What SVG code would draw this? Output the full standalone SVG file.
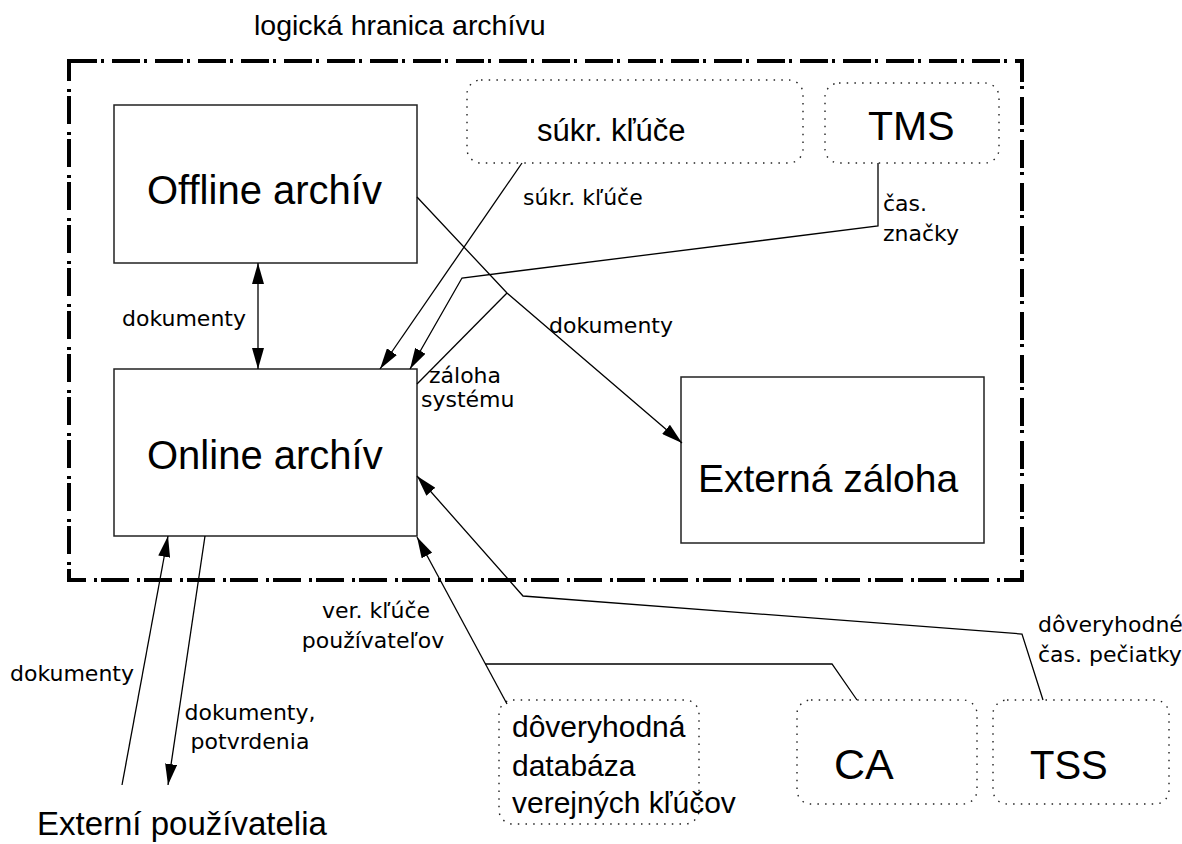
<svg xmlns="http://www.w3.org/2000/svg" width="1182" height="844" viewBox="0 0 1182 844">
<style>
.box{fill:#fff;stroke:#222;stroke-width:1.5}
.dot{fill:none;stroke:#222;stroke-width:1.4;stroke-dasharray:1.5 6.2}
.frame{fill:none;stroke:#000;stroke-width:4;stroke-dasharray:28 4 3 8}
.ln{fill:none;stroke:#000;stroke-width:1.3}
.big{font-family:"Liberation Sans",Arial,sans-serif;fill:#000}
.sm{font-family:"DejaVu Sans",Verdana,sans-serif;font-size:22px;fill:#000}
</style>
<defs>
<marker id="ah" viewBox="0 0 21 12" refX="21" refY="6" markerWidth="21" markerHeight="12" markerUnits="userSpaceOnUse" orient="auto-start-reverse">
<path d="M0,0 L21,6 L0,12 z" fill="#000"/>
</marker>
</defs>
<rect width="1182" height="844" fill="#fff"/>
<g id="boundary">
<rect class="frame" x="69" y="61" width="953" height="519"/>
<text class="big" x="254" y="35" font-size="28.5">logická hranica archívu</text>
</g>
<g id="offline">
<rect class="box" x="114" y="105" width="303" height="158"/>
<text class="big" x="147" y="204" font-size="40">Offline archív</text>
</g>
<g id="online">
<rect class="box" x="114" y="369" width="303" height="167"/>
<text class="big" x="147" y="469" font-size="40">Online archív</text>
</g>
<g id="externa">
<rect class="box" x="681" y="377" width="303" height="166"/>
<text class="big" x="698" y="492" font-size="39">Externá záloha</text>
</g>
<g id="sukr">
<rect class="dot" x="467" y="80" width="336" height="83" rx="14"/>
<text class="big" x="537" y="141" font-size="31">súkr. kľúče</text>
</g>
<g id="tms">
<rect class="dot" x="825" y="83" width="174" height="80" rx="14"/>
<text class="big" x="868" y="140" font-size="41">TMS</text>
</g>
<g id="db">
<rect class="dot" x="499" y="700" width="200" height="124" rx="14"/>
<text class="big" x="512" y="737" font-size="30">dôveryhodná</text>
<text class="big" x="512" y="776" font-size="30">databáza</text>
<text class="big" x="512" y="813" font-size="30">verejných kľúčov</text>
</g>
<g id="ca">
<rect class="dot" x="797" y="700" width="180" height="104" rx="14"/>
<text class="big" x="834" y="779" font-size="43">CA</text>
</g>
<g id="tss">
<rect class="dot" x="993" y="700" width="176" height="104" rx="14"/>
<text class="big" x="1030" y="779" font-size="40">TSS</text>
</g>
<g id="users">
<text class="big" x="37" y="835" font-size="33">Externí používatelia</text>
</g>
<g id="connectors">
<line class="ln" x1="258" y1="263" x2="258" y2="369" marker-start="url(#ah)" marker-end="url(#ah)"/>
<line class="ln" x1="522" y1="163" x2="380" y2="369" marker-end="url(#ah)"/>
<polyline class="ln" points="878,163 878,226 462,278 410,369" marker-end="url(#ah)"/>
<polyline class="ln" points="417,384 507,293"/>
<polyline class="ln" points="417,197 507,293 682,443" marker-end="url(#ah)"/>
<line class="ln" x1="507" y1="704" x2="417" y2="537" marker-end="url(#ah)"/>
<polyline class="ln" points="857,700 832,664 485,664"/>
<polyline class="ln" points="1043,700 1022,634 523,596 417,476" marker-end="url(#ah)"/>
<line class="ln" x1="122" y1="785" x2="168" y2="536" marker-end="url(#ah)"/>
<line class="ln" x1="205" y1="536" x2="168" y2="785" marker-end="url(#ah)"/>
<text class="sm" x="122" y="326">dokumenty</text>
<text class="sm" x="523" y="205">súkr. kľúče</text>
<text class="sm" x="883" y="211">čas.</text>
<text class="sm" x="883" y="241">značky</text>
<text class="sm" x="549" y="333">dokumenty</text>
<text class="sm" x="429" y="383" font-size="16.5">záloha</text>
<text class="sm" x="421" y="407" font-size="16.5">systému</text>
<text class="sm" x="376" y="618" text-anchor="middle">ver. kľúče</text>
<text class="sm" x="373" y="648" text-anchor="middle">používateľov</text>
<text class="sm" x="1038" y="632">dôveryhodné</text>
<text class="sm" x="1038" y="662">čas. pečiatky</text>
<text class="sm" x="10" y="681">dokumenty</text>
<text class="sm" x="250" y="720" text-anchor="middle">dokumenty,</text>
<text class="sm" x="250" y="749" text-anchor="middle">potvrdenia</text>
</g>
</svg>
